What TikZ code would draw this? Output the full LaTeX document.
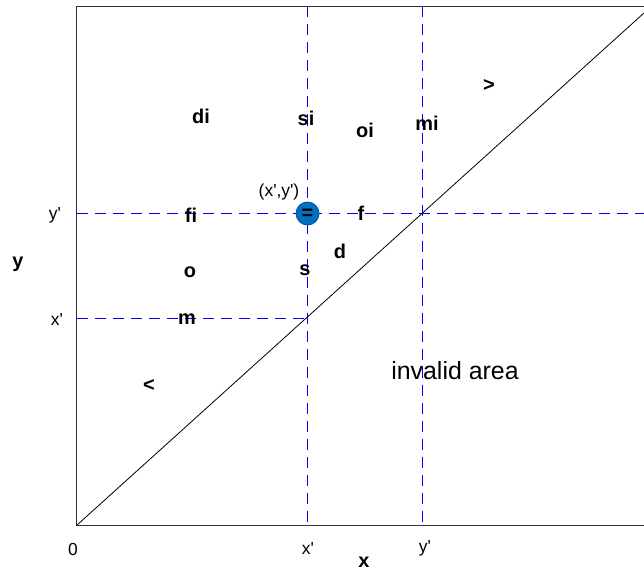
\documentclass[tikz,border=0pt]{standalone}
\usepackage{fontspec}
\setmainfont{Liberation Sans}[Ligatures=TeXOff]
\definecolor{guideblue}{RGB}{0,0,255}
\definecolor{ptfill}{RGB}{0,112,192}
\definecolor{ptedge}{RGB}{0,80,150}
\begin{document}
\begin{tikzpicture}[x=1bp,y=-1bp,
  axisline/.style={color=black!80, line width=1.2bp},
  guide/.style={draw=guideblue, line width=1bp, dash pattern=on 11bp off 7bp},
  rel/.style={font=\fontsize{20}{24}\selectfont\bfseries, inner sep=0pt},
  small/.style={font=\fontsize{17.5}{20}\selectfont, inner sep=0pt},
  axlab/.style={font=\fontsize{20}{24}\selectfont\bfseries, inner sep=0pt},
  big/.style={font=\fontsize{25}{30}\selectfont, inner sep=0pt}]
\useasboundingbox (0,0) rectangle (644,571);
% frame coordinates
\coordinate (O) at (76.5,525.5);
\coordinate (TL) at (76.5,6.5);
\coordinate (TR) at (644,6.5);
\coordinate (BR) at (644,525.5);
\coordinate (DE) at (644,13);
\coordinate (XT) at (307.5,6.5);
\coordinate (XB) at (307.5,525.5);
\coordinate (YT) at (422.5,6.5);
\coordinate (YB) at (422.5,525.5);
\coordinate (HL) at (76.5,213.5);
\coordinate (HR) at (644,213.5);
\coordinate (ML) at (76.5,318.5);
\coordinate (MR) at (307.5,318.5);
\coordinate (P) at (307.5,213.5);
% guides
\path[guide] (XT) -- (XB);
\path[guide] (YT) -- (YB);
\path[guide] (HL) -- (HR);
\path[guide] (ML) -- (MR);
% axes
\draw[axisline] (TR) -- (TL) -- (O) -- (BR);
\draw[black, line width=0.8bp] (O) -- (DE);
% point
\filldraw[fill=ptfill, draw=ptedge, line width=0.8bp] (P) circle[radius=11.5bp];
\node[rel] (eq) at (307.5,214) {=};
% relation labels
\node[rel] (di) at (201,116) {di};
\node[rel] (si) at (306,118) {si};
\node[rel] (oi) at (365,130) {oi};
\node[rel] (mi) at (427,123) {mi};
\node[rel] (gt) at (489,86) {>};
\node[rel] (fi) at (191,215) {fi};
\node[rel] (f) at (361,213) {f};
\node[rel] (d) at (340,251) {d};
\node[rel] (o) at (190,272) {o};
\node[rel] (s) at (305,270) {s};
\node[rel] (m) at (187,319) {m};
\node[rel] (lt) at (149,386) {<};
% other labels
\node[small] (pl) at (279,192) {(x',y')};
\node[small] (yl) at (55,215) {y'};
\node[small] (xl) at (57,319) {x'};
\node[small] (zero) at (73,549) {0};
\node[small] (xb) at (308,548) {x'};
\node[small] (yb) at (425,548) {y'};
\node[axlab] (yax) at (18,264) {y};
\node[axlab] (xax) at (364,562) {x};
\node[big] (inv) at (455,371) {invalid area};
\end{tikzpicture}
\end{document}
